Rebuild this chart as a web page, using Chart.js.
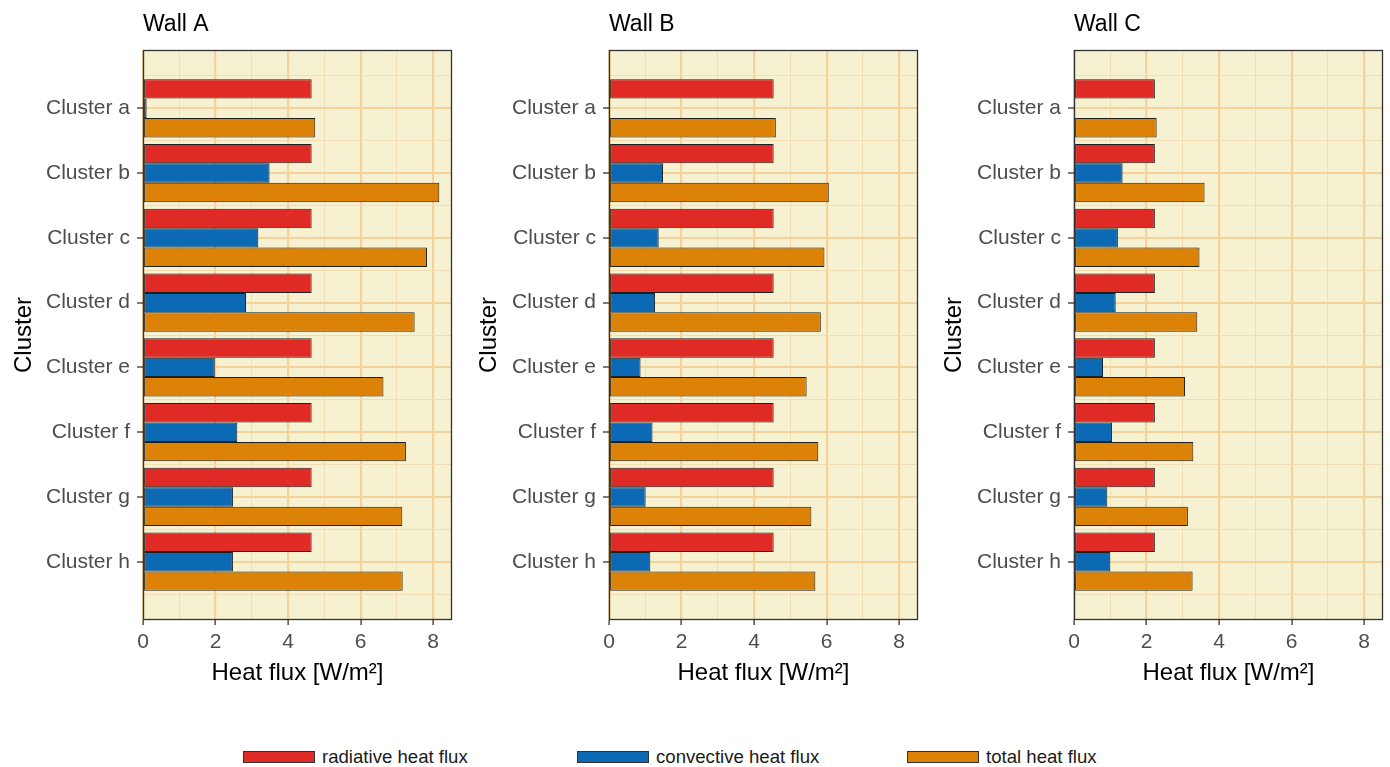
<!DOCTYPE html>
<html>
<head>
<meta charset="utf-8">
<title>Heat flux per cluster</title>
<script src="https://cdn.jsdelivr.net/npm/chart.js@4.4.0/dist/chart.umd.min.js"></script>
<style>
    html, body { margin: 0; padding: 0; background: #ffffff; }
    body { width: 1390px; height: 767px; position: relative; overflow: hidden; font-family: 'Liberation Sans', Arial, sans-serif; }
    .panel { position: absolute; top: 0; }
    #legend { position: absolute; top: 746px; left: 0; width: 1390px; height: 20px; }
    .legend-item { position: absolute; top: 0; display: flex; align-items: center; font-size: 18.6px; color: #1a1a1a; white-space: nowrap; }
    .legend-key { width: 70px; height: 10px; border: 1px solid #333; margin-right: 7px; }
</style>
</head>
<body>
<canvas id="wallA" class="panel" width="465" height="700" style="left:0px"></canvas>
<canvas id="wallB" class="panel" width="465" height="700" style="left:465px"></canvas>
<canvas id="wallC" class="panel" width="460" height="700" style="left:930px"></canvas>
<div id="legend"></div>

<script>
// --- data ---
const clusters = ['Cluster a', 'Cluster b', 'Cluster c', 'Cluster d', 'Cluster e', 'Cluster f', 'Cluster g', 'Cluster h'];
const seriesNames = ['radiative heat flux', 'convective heat flux', 'total heat flux'];
const xTicks = [0, 1, 2, 3, 4, 5, 6, 7, 8];

// Wall A
const radiativeA = [4.65, 4.65, 4.65, 4.65, 4.65, 4.65, 4.65, 4.65];
const convectiveA = [0.10, 3.49, 3.18, 2.84, 1.98, 2.60, 2.48, 2.48];
const totalA = [4.75, 8.17, 7.83, 7.49, 6.63, 7.25, 7.15, 7.16];

// Wall B
const radiativeB = [4.54, 4.54, 4.54, 4.54, 4.54, 4.54, 4.54, 4.54];
const convectiveB = [0.03, 1.49, 1.37, 1.27, 0.87, 1.20, 1.01, 1.14];
const totalB = [4.60, 6.06, 5.94, 5.84, 5.45, 5.77, 5.58, 5.69];

// Wall C
const radiativeC = [2.23, 2.23, 2.23, 2.23, 2.23, 2.23, 2.23, 2.23];
const convectiveC = [0.02, 1.34, 1.21, 1.15, 0.80, 1.05, 0.92, 1.00];
const totalC = [2.28, 3.60, 3.46, 3.40, 3.06, 3.29, 3.14, 3.27];

// --- styling ---
const barColors = ['#e02a26', '#0b6ab3', '#dc8307'];
const panelBg = '#f6f1d0';
const gridMajor = '#f5d19c';
const gridMinor = '#f3ddb2';
const frameColor = '#333333';
const fontFamily = "'Liberation Sans', Arial, sans-serif";

// helpers for scriptable grid options (context may have no tick)
const tickVal = c => (c.tick ? c.tick.value : NaN);
const isEven = c => tickVal(c) % 2 === 0;
const isWhole = c => Number.isInteger(tickVal(c));

// cream panel background + frame + panel title
const panelPlugin = {
    id: 'panelDeco',
    beforeDraw(chart) {
        const a = chart.chartArea;
        const ctx = chart.ctx;
        ctx.save();
        ctx.fillStyle = panelBg;
        ctx.fillRect(a.left, a.top, a.right - a.left, a.bottom - a.top);
        ctx.restore();
    },
    afterDraw(chart, args, opts) {
        const a = chart.chartArea;
        const ctx = chart.ctx;
        ctx.save();
        ctx.strokeStyle = frameColor;
        ctx.lineWidth = 1.3;
        ctx.strokeRect(a.left + 0.5, a.top + 0.5, a.right - a.left - 1, a.bottom - a.top - 1);
        ctx.fillStyle = '#000';
        ctx.font = '23px ' + fontFamily;
        ctx.textBaseline = 'alphabetic';
        ctx.textAlign = 'left';
        ctx.fillText(opts.title, a.left, 31);
        ctx.restore();
    }
};

function makeWall(canvasId, title, radiative, convective, total, axisWidth, padRight) {
    const seriesData = [radiative, convective, total];
    // half-step ticks so minor grid lines fall between clusters
    const yTicks = [];
    for (let v = -0.5; v <= clusters.length - 0.5; v += 0.5) yTicks.push(v);

    new Chart(document.getElementById(canvasId), {
        type: 'bar',
        data: {
            datasets: seriesData.map((vals, s) => ({
                label: seriesNames[s],
                data: vals.map((v, i) => ({ x: v, y: i })),
                backgroundColor: barColors[s],
                borderColor: '#1f1f1f',
                borderWidth: 1,
                borderSkipped: false,
                // ruler min spacing is the half-step tick gap, so 1.8 = 0.9 of a cluster
                categoryPercentage: 1.8,
                barPercentage: 1.0
            }))
        },
        options: {
            indexAxis: 'y',
            responsive: false,
            animation: false,
            layout: { padding: { top: 50, right: padRight, bottom: 0, left: 0 } },
            plugins: {
                legend: { display: false },
                tooltip: { enabled: false },
                panelDeco: { title: title }
            },
            scales: {
                x: {
                    type: 'linear',
                    min: 0,
                    max: 8.52,
                    offset: false,
                    afterBuildTicks: s => { s.ticks = xTicks.map(v => ({ value: v })); },
                    afterFit: s => { s.height = 80; },
                    border: { display: false },
                    grid: {
                        offset: false,
                        color: c => (isEven(c) ? gridMajor : gridMinor),
                        lineWidth: c => (isEven(c) ? 2.2 : 1),
                        tickColor: c => (isEven(c) ? frameColor : 'rgba(0,0,0,0)'),
                        tickWidth: 1.3,
                        tickLength: 5
                    },
                    ticks: {
                        autoSkip: false,
                        maxRotation: 0,
                        padding: 5,
                        color: '#4d4d4d',
                        font: { family: fontFamily, size: 21 },
                        callback: v => (v % 2 === 0 ? String(v) : '')
                    },
                    title: {
                        display: true,
                        text: 'Heat flux [W/m²]',
                        color: '#000',
                        font: { family: fontFamily, size: 24 },
                        padding: { top: 0, bottom: 12 }
                    }
                },
                y: {
                    type: 'linear',
                    reverse: true,
                    offset: false,
                    min: -0.9,
                    max: clusters.length - 0.1,
                    afterBuildTicks: s => { s.ticks = yTicks.map(v => ({ value: v })); },
                    afterFit: s => { s.width = axisWidth; },
                    border: { display: false },
                    grid: {
                        offset: false,
                        color: c => (isWhole(c) ? gridMajor : gridMinor),
                        lineWidth: c => (isWhole(c) ? 2 : 1),
                        tickColor: c => (isWhole(c) ? frameColor : 'rgba(0,0,0,0)'),
                        tickWidth: 1.3,
                        tickLength: 6
                    },
                    ticks: {
                        autoSkip: false,
                        padding: 7,
                        color: '#4d4d4d',
                        font: { family: fontFamily, size: 21 },
                        callback: v => (Number.isInteger(v) ? clusters[v] : '')
                    },
                    title: {
                        display: true,
                        text: 'Cluster',
                        color: '#000',
                        font: { family: fontFamily, size: 24 },
                        padding: { top: 10, bottom: 0 }
                    }
                }
            }
        },
        plugins: [panelPlugin]
    });
}

function buildLegend() {
    const legendEl = document.getElementById('legend');
    const keyLeft = [243, 577, 907];
    seriesNames.forEach((name, i) => {
        const item = document.createElement('div');
        item.className = 'legend-item';
        item.style.left = keyLeft[i] + 'px';
        const key = document.createElement('span');
        key.className = 'legend-key';
        key.style.background = barColors[i];
        const label = document.createElement('span');
        label.textContent = name;
        item.appendChild(key);
        item.appendChild(label);
        legendEl.appendChild(item);
    });
}

makeWall('wallA', 'Wall A', radiativeA, convectiveA, totalA, 143, 13);
makeWall('wallB', 'Wall B', radiativeB, convectiveB, totalB, 144, 12);
makeWall('wallC', 'Wall C', radiativeC, convectiveC, totalC, 144, 7);
buildLegend();
</script>
</body>
</html>
